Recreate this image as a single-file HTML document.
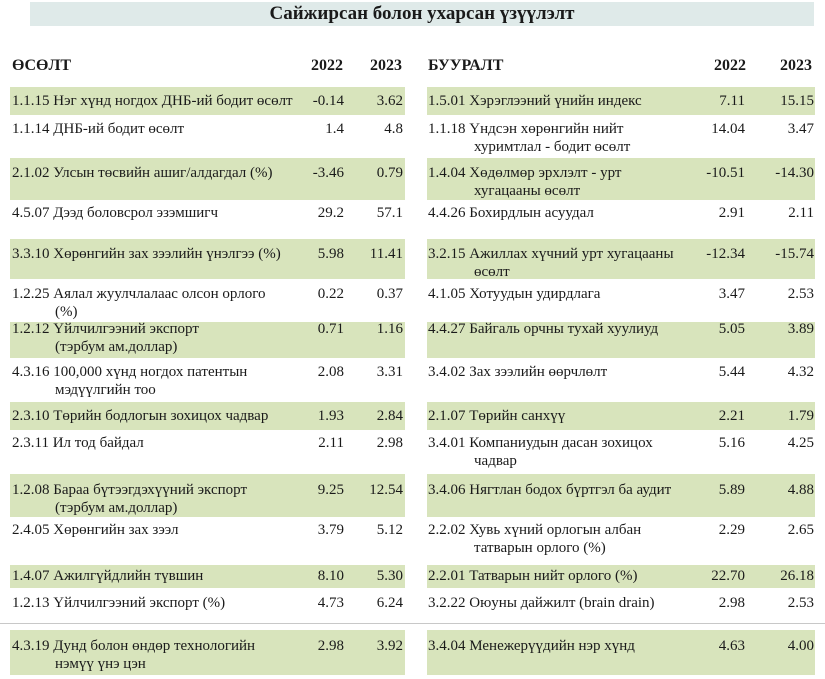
<!DOCTYPE html>
<html><head><meta charset="utf-8">
<style>
body{margin:0;width:825px;height:679px;background:#fff;position:relative;overflow:hidden;font-family:"Liberation Serif",serif;color:#1a1a1a;}
.abs{position:absolute;}
#title{left:30px;top:2px;width:784px;height:24px;background:#dfeae9;text-align:center;font-weight:bold;font-size:19px;line-height:24px;}
.hd{font-weight:bold;font-size:16px;}
.bg{background:#d8e4bc;}
.lbl{font-size:15px;line-height:17.5px;white-space:nowrap;}
.num{font-size:15px;line-height:17.5px;text-align:right;width:60px;}
#sep{left:0;top:623px;width:825px;height:1px;background:#c8c8c8;}
</style></head><body>
<div id="title" class="abs">Сайжирсан болон ухарсан үзүүлэлт</div>
<div class="abs hd" style="left:12px;top:57px">ӨСӨЛТ</div>
<div class="abs hd" style="left:311px;top:57px">2022</div>
<div class="abs hd" style="left:370px;top:57px">2023</div>
<div class="abs hd" style="left:428px;top:57px">БУУРАЛТ</div>
<div class="abs hd" style="left:714px;top:57px">2022</div>
<div class="abs hd" style="left:780px;top:57px">2023</div>
<div id="sep" class="abs"></div>
<div id="rows"></div>
<script>
const rowTops=[87,115,158,200,239,279,322,358,402,430,474,517,565,588,630];
const rowBottoms=[115,151,200,239,279,322,358,402,430,474,517,565,588,623,679];
const leftCodes=["1.1.15","1.1.14","2.1.02","4.5.07","3.3.10","1.2.25","1.2.12","4.3.16","2.3.10","2.3.11","1.2.08","2.4.05","1.4.07","1.2.13","4.3.19"];
const leftNames=[["Нэг хүнд ногдох ДНБ-ий бодит өсөлт"],["ДНБ-ий бодит өсөлт"],["Улсын төсвийн ашиг/алдагдал (%)"],["Дээд боловсрол эзэмшигч"],["Хөрөнгийн зах зээлийн үнэлгээ (%)"],["Аялал жуулчлалаас олсон орлого","(%)"],["Үйлчилгээний экспорт","(тэрбум ам.доллар)"],["100,000 хүнд ногдох патентын","мэдүүлгийн тоо"],["Төрийн бодлогын зохицох чадвар"],["Ил тод байдал"],["Бараа бүтээгдэхүүний экспорт","(тэрбум ам.доллар)"],["Хөрөнгийн зах зээл"],["Ажилгүйдлийн түвшин"],["Үйлчилгээний экспорт (%)"],["Дунд болон өндөр технологийн","нэмүү үнэ цэн"]];
const left2022=["-0.14","1.4","-3.46","29.2","5.98","0.22","0.71","2.08","1.93","2.11","9.25","3.79","8.10","4.73","2.98"];
const left2023=["3.62","4.8","0.79","57.1","11.41","0.37","1.16","3.31","2.84","2.98","12.54","5.12","5.30","6.24","3.92"];
const rightCodes=["1.5.01","1.1.18","1.4.04","4.4.26","3.2.15","4.1.05","4.4.27","3.4.02","2.1.07","3.4.01","3.4.06","2.2.02","2.2.01","3.2.22","3.4.04"];
const rightNames=[["Хэрэглээний үнийн индекс"],["Үндсэн хөрөнгийн нийт","хуримтлал - бодит өсөлт"],["Хөдөлмөр эрхлэлт - урт","хугацааны өсөлт"],["Бохирдлын асуудал"],["Ажиллах хүчний урт хугацааны","өсөлт"],["Хотуудын удирдлага"],["Байгаль орчны тухай хуулиуд"],["Зах зээлийн өөрчлөлт"],["Төрийн санхүү"],["Компаниудын дасан зохицох","чадвар"],["Нягтлан бодох бүртгэл ба аудит"],["Хувь хүний орлогын албан","татварын орлого (%)"],["Татварын нийт орлого (%)"],["Оюуны дайжилт (brain drain)"],["Менежерүүдийн нэр хүнд"]];
const right2022=["7.11","14.04","-10.51","2.91","-12.34","3.47","5.05","5.44","2.21","5.16","5.89","2.29","22.70","2.98","4.63"];
const right2023=["15.15","3.47","-14.30","2.11","-15.74","2.53","3.89","4.32","1.79","4.25","4.88","2.65","26.18","2.53","4.00"];
const textTops=[93,121,165,205,246,286,321,364,408,435,482,522,568,595,638];
const root=document.getElementById('rows');
function addDiv(cls,x,y,w,h,txt){const d=document.createElement('div');d.className='abs '+cls;d.style.left=x+'px';d.style.top=y+'px';if(w)d.style.width=w+'px';if(h)d.style.height=h+'px';if(txt!==undefined)d.innerHTML=txt;root.appendChild(d);return d;}
for(let i=0;i<rowTops.length;i++){
  if(i%2===0){
    const g1=addDiv('bg',10,rowTops[i],395,rowBottoms[i]-rowTops[i]-(i===14?4:0));
    
    
    const g2=addDiv('bg',427,rowTops[i],388,rowBottoms[i]-rowTops[i]-(i===14?4:0));
    
    
  }
  const t=textTops[i];
  const l=addDiv('lbl',12,t,null,null,leftCodes[i]+' '+leftNames[i][0]+(leftNames[i][1]?'<br><span style="padding-left:43px">'+leftNames[i][1]+'</span>':''));
  
  
  const a=addDiv('num',284,t,60,null,left2022[i]);
  
  
  const b=addDiv('num',343,t,60,null,left2023[i]);
  
  
  const r=addDiv('lbl',428,t,null,null,rightCodes[i]+' '+rightNames[i][0]+(rightNames[i][1]?'<br><span style="padding-left:46px">'+rightNames[i][1]+'</span>':''));
  
  
  const c=addDiv('num',685,t,60,null,right2022[i]);
  
  
  const d=addDiv('num',754,t,60,null,right2023[i]);
  
  
}
</script>
</body></html>
